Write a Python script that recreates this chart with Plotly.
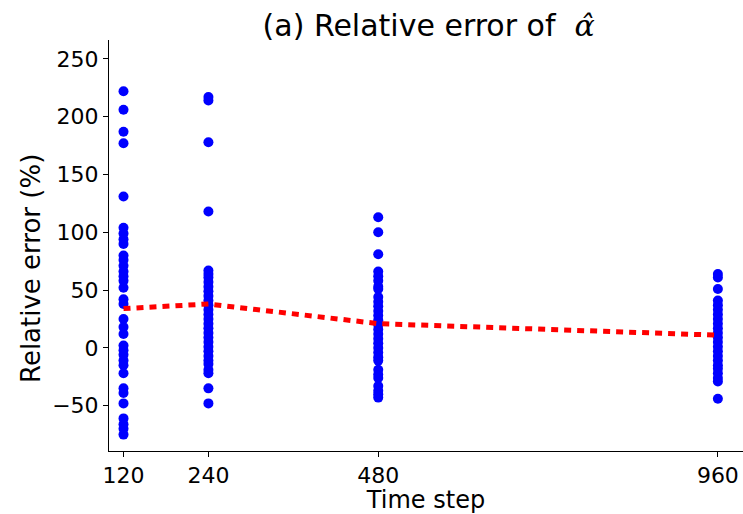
import plotly.graph_objects as go

time_steps = [120, 240, 480, 960]
tick_labels = ["120", "240", "480", "960"]

err_120 = [222, 206, 187, 177, 131, 104, 99, 94, 90, 80, 76, 71, 66, 62, 58, 52,
           42, 38, 25, 18, 12, 2, -2, -6, -11, -15, -22, -35, -39, -48, -61, -66, -70, -75]
err_240 = [217, 214, 178, 118, 67, 64, 61, 57, 53, 49, 45, 41, 37, 33, 29, 25, 21,
           17, 13, 9, 5, 1, -3, -7, -11, -14, -19, -22, -35, -48]
err_480 = [113, 100, 81, 66, 62, 58, 53, 51, 44, 40, 36, 32, 28, 24, 20, 16, 12, 8,
           4, 0, -4, -8, -11, -19, -23, -26, -33, -37, -40, -43]
err_960 = [64, 61, 51, 41, 37, 33, 29, 25, 21, 17, 13, 9, 5, 1, -3, -7, -11, -15,
           -18, -22, -26, -29, -44]
mean_err = [34, 38, 21, 11]

groups = [err_120, err_240, err_480, err_960]

fig = go.Figure()
for t, vals in zip(time_steps, groups):
    fig.add_trace(go.Scatter(
        x=[t] * len(vals), y=vals, mode="markers",
        marker=dict(color="#0000ff", size=10, line=dict(width=0)),
        showlegend=False, hoverinfo="skip"))

fig.add_trace(go.Scatter(
    x=time_steps, y=mean_err, mode="lines",
    line=dict(color="#ff0000", width=5, dash="7px,6px"),
    showlegend=False))

font = "DejaVu Sans"
W, H = 743, 514
L, R, T, B = 109, 0, 40, 63
pw, ph = W - L - R, H - T - B

fig.update_layout(
    width=W, height=H,
    margin=dict(l=L, r=R, t=T, b=B),
    paper_bgcolor="white", plot_bgcolor="white",
    font=dict(family=font, color="black"),
    title=dict(
        text="(a) Relative error of  <span style='font-family:DejaVu Serif'><i>α̂</i></span>",
        x=0.577, xanchor="center", xref="container",
        y=1 - 25 / H, yanchor="middle", yref="container",
        font=dict(size=30, family=font, color="black")),
    xaxis=dict(
        range=[99.5, 995.5], tickvals=time_steps, ticktext=tick_labels,
        showline=True, linecolor="black", linewidth=1, mirror=False,
        ticks="outside", ticklen=5, tickcolor="black", showgrid=False, zeroline=False,
        tickfont=dict(size=22, family=font),
        title=dict(text="Time step", font=dict(size=24, family=font), standoff=0)),
    yaxis=dict(
        range=[-89.2, 266.4], tickvals=[-50, 0, 50, 100, 150, 200, 250],
        showline=True, linecolor="black", linewidth=1, mirror=False,
        ticks="outside", ticklen=5, tickcolor="black", showgrid=False, zeroline=False,
        tickfont=dict(size=22, family=font)),
    annotations=[dict(
        text="Relative error (%)", textangle=-90, showarrow=False,
        xref="paper", yref="paper",
        x=(31 - L) / pw, y=(H - B - 269) / ph,
        xanchor="center", yanchor="middle",
        font=dict(size=26, family=font, color="black"))],
)

fig.write_html("out.html")
